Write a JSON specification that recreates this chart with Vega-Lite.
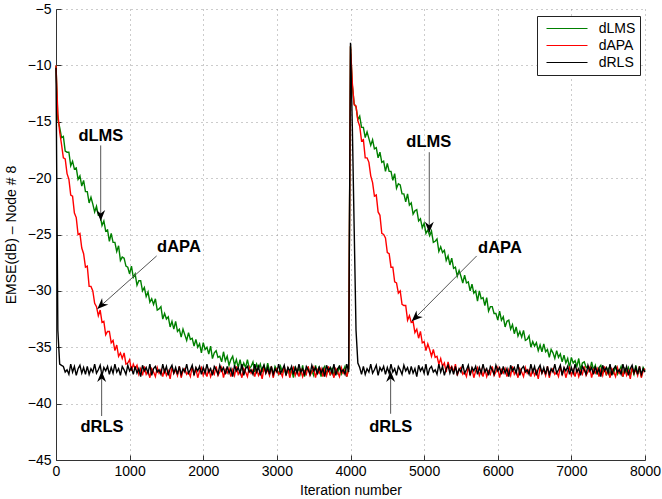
{
"$schema":"https://vega.github.io/schema/vega-lite/v6.json",
"width":589,"height":451,
"autosize":"none",
"padding":{"left":56,"top":9,"right":17,"bottom":39},
"background":"white",
"config":{"font":"Liberation Sans","view":{"stroke":null},
"axis":{"labelFontSize":14,"titleFontSize":14,"titleFontWeight":"normal","labelColor":"#000","titleColor":"#000","domainColor":"#333","tickColor":"#333","tickSize":-5,"gridColor":"#999","gridDash":[1,4],"gridOpacity":1,"labelFlush":false,"labelOverlap":false}},
"datasets":{
"curves":[
{"x":0,"g":-10,"r":-10,"k":-10.2},{"x":25,"g":-14.8,"r":-14.3,"k":-33.5},{"x":50,"g":-15.5,"r":-15.9,"k":-36.5},{"x":75,"g":-16.4,"r":-17.0,"k":-36.6},{"x":100,"g":-16.3,"r":-18.2,"k":-36.7},
{"x":125,"g":-17.6,"r":-18.3,"k":-37.2},{"x":150,"g":-17.7,"r":-19.6,"k":-37.0},{"x":175,"g":-17.7,"r":-20.1,"k":-37.4},{"x":200,"g":-18.9,"r":-21.5,"k":-36.5},{"x":225,"g":-18.5,"r":-21.6,"k":-37.2},
{"x":250,"g":-19.2,"r":-23.1,"k":-36.7},{"x":275,"g":-19.1,"r":-23.5,"k":-37.5},{"x":300,"g":-20.1,"r":-25.0,"k":-36.9},{"x":325,"g":-19.8,"r":-24.9,"k":-36.6},{"x":350,"g":-20.7,"r":-26.2,"k":-37.3},
{"x":375,"g":-20.2,"r":-26.7,"k":-36.8},{"x":400,"g":-21.2,"r":-27.9,"k":-37.4},{"x":425,"g":-21.2,"r":-27.8,"k":-36.7},{"x":450,"g":-22.2,"r":-29.6,"k":-37.4},{"x":475,"g":-21.7,"r":-29.6,"k":-36.9},
{"x":500,"g":-22.3,"r":-30.0,"k":-37.2},{"x":525,"g":-23.0,"r":-31.1,"k":-36.5},{"x":550,"g":-22.5,"r":-31.4,"k":-37.3},{"x":575,"g":-23.3,"r":-32.2,"k":-37.0},{"x":600,"g":-23.3,"r":-31.7,"k":-36.6},
{"x":625,"g":-24.2,"r":-32.8,"k":-37.5},{"x":650,"g":-23.8,"r":-32.7,"k":-36.8},{"x":675,"g":-24.7,"r":-33.9,"k":-37.1},{"x":700,"g":-24.6,"r":-33.6,"k":-36.7},{"x":725,"g":-25.6,"r":-33.6,"k":-37.4},
{"x":750,"g":-24.9,"r":-34.6,"k":-36.8},{"x":775,"g":-25.7,"r":-34.4,"k":-37.3},{"x":800,"g":-25.7,"r":-35.3,"k":-36.5},{"x":825,"g":-26.5,"r":-34.8,"k":-37.2},{"x":850,"g":-26.0,"r":-35.8,"k":-36.9},
{"x":875,"g":-27.3,"r":-35.5,"k":-37.5},{"x":900,"g":-27.0,"r":-36.0,"k":-36.7},{"x":925,"g":-27.1,"r":-35.5,"k":-37.0},{"x":950,"g":-27.8,"r":-36.5,"k":-37.4},{"x":975,"g":-27.9,"r":-36.4,"k":-36.6},
{"x":1000,"g":-28.5,"r":-36.1,"k":-37.1},{"x":1025,"g":-27.8,"r":-37.1,"k":-36.8},{"x":1050,"g":-28.8,"r":-36.5,"k":-37.4},{"x":1075,"g":-28.5,"r":-36.9,"k":-36.7},{"x":1100,"g":-29.5,"r":-36.6,"k":-37.3},
{"x":1125,"g":-29.1,"r":-37.4,"k":-36.9},{"x":1150,"g":-29.1,"r":-36.9,"k":-37.6},{"x":1175,"g":-30.0,"r":-37.5,"k":-36.6},{"x":1200,"g":-29.7,"r":-36.7,"k":-37.1},{"x":1225,"g":-30.5,"r":-37.4,"k":-36.8},
{"x":1250,"g":-30.1,"r":-37.1,"k":-37.3},{"x":1275,"g":-31.0,"r":-37.7,"k":-36.5},{"x":1300,"g":-30.7,"r":-36.9,"k":-37.5},{"x":1325,"g":-31.2,"r":-37.2,"k":-36.9},{"x":1350,"g":-30.7,"r":-37.6,"k":-36.7},
{"x":1375,"g":-31.7,"r":-36.8,"k":-37.2},{"x":1400,"g":-31.6,"r":-37.3,"k":-37.0},{"x":1425,"g":-31.4,"r":-37.0,"k":-37.4},{"x":1450,"g":-32.5,"r":-37.6,"k":-36.5},{"x":1475,"g":-32.0,"r":-36.9,"k":-37.2},
{"x":1500,"g":-32.5,"r":-37.5,"k":-36.7},{"x":1525,"g":-32.3,"r":-37.1,"k":-37.5},{"x":1550,"g":-33.2,"r":-37.8,"k":-36.9},{"x":1575,"g":-32.7,"r":-36.8,"k":-36.6},{"x":1600,"g":-33.4,"r":-37.3,"k":-37.3},
{"x":1625,"g":-32.7,"r":-37.0,"k":-36.8},{"x":1650,"g":-33.6,"r":-37.5,"k":-37.4},{"x":1675,"g":-33.4,"r":-36.7,"k":-36.7},{"x":1700,"g":-34.1,"r":-37.7,"k":-37.4},{"x":1725,"g":-33.4,"r":-37.1,"k":-36.9},
{"x":1750,"g":-33.9,"r":-36.9,"k":-37.2},{"x":1775,"g":-34.4,"r":-37.4,"k":-36.5},{"x":1800,"g":-33.7,"r":-37.2,"k":-37.3},{"x":1825,"g":-34.3,"r":-37.6,"k":-37.0},{"x":1850,"g":-34.2,"r":-36.7,"k":-36.6},
{"x":1875,"g":-34.9,"r":-37.4,"k":-37.5},{"x":1900,"g":-34.3,"r":-36.9,"k":-36.8},{"x":1925,"g":-35.0,"r":-37.7,"k":-37.1},{"x":1950,"g":-34.7,"r":-37.1,"k":-36.7},{"x":1975,"g":-35.5,"r":-36.8,"k":-37.4},
{"x":2000,"g":-34.6,"r":-37.5,"k":-36.8},{"x":2025,"g":-35.2,"r":-37.0,"k":-37.3},{"x":2050,"g":-35.0,"r":-37.6,"k":-36.5},{"x":2075,"g":-35.6,"r":-36.9,"k":-37.2},{"x":2100,"g":-34.9,"r":-37.6,"k":-36.9},
{"x":2125,"g":-36.0,"r":-37.1,"k":-37.5},{"x":2150,"g":-35.5,"r":-37.4,"k":-36.7},{"x":2175,"g":-35.3,"r":-36.7,"k":-37.0},{"x":2200,"g":-35.9,"r":-37.5,"k":-37.4},{"x":2225,"g":-35.8,"r":-37.2,"k":-36.6},
{"x":2250,"g":-36.3,"r":-36.8,"k":-37.1},{"x":2275,"g":-35.4,"r":-37.7,"k":-36.8},{"x":2300,"g":-36.2,"r":-37.0,"k":-37.4},{"x":2325,"g":-35.8,"r":-37.3,"k":-36.7},{"x":2350,"g":-36.6,"r":-36.9,"k":-37.3},
{"x":2375,"g":-36.1,"r":-37.6,"k":-36.9},{"x":2400,"g":-35.8,"r":-37.0,"k":-37.6},{"x":2425,"g":-36.6,"r":-37.5,"k":-36.6},{"x":2450,"g":-36.1,"r":-36.7,"k":-37.1},{"x":2475,"g":-36.8,"r":-37.4,"k":-36.8},
{"x":2500,"g":-36.1,"r":-37.1,"k":-37.3},{"x":2525,"g":-36.9,"r":-37.7,"k":-36.5},{"x":2550,"g":-36.4,"r":-36.9,"k":-37.5},{"x":2575,"g":-36.8,"r":-37.2,"k":-36.9},{"x":2600,"g":-36.1,"r":-37.6,"k":-36.7},
{"x":2625,"g":-36.9,"r":-36.8,"k":-37.2},{"x":2650,"g":-36.7,"r":-37.3,"k":-37.0},{"x":2675,"g":-36.3,"r":-37.0,"k":-37.4},{"x":2700,"g":-37.2,"r":-37.6,"k":-36.5},{"x":2725,"g":-36.5,"r":-36.9,"k":-37.2},
{"x":2750,"g":-36.9,"r":-37.5,"k":-36.7},{"x":2775,"g":-36.5,"r":-37.1,"k":-37.5},{"x":2800,"g":-37.2,"r":-37.8,"k":-36.9},{"x":2825,"g":-36.6,"r":-36.8,"k":-36.6},{"x":2850,"g":-37.2,"r":-37.3,"k":-37.3},
{"x":2875,"g":-36.4,"r":-37.0,"k":-36.8},{"x":2900,"g":-37.1,"r":-37.5,"k":-37.4},{"x":2925,"g":-36.8,"r":-36.7,"k":-36.7},{"x":2950,"g":-37.5,"r":-37.7,"k":-37.4},{"x":2975,"g":-36.7,"r":-37.1,"k":-36.9},
{"x":3000,"g":-37.0,"r":-36.9,"k":-37.2},{"x":3025,"g":-37.4,"r":-37.4,"k":-36.5},{"x":3050,"g":-36.7,"r":-37.2,"k":-37.3},{"x":3075,"g":-37.2,"r":-37.6,"k":-37.0},{"x":3100,"g":-36.9,"r":-36.7,"k":-36.6},
{"x":3125,"g":-37.5,"r":-37.4,"k":-37.5},{"x":3150,"g":-36.8,"r":-36.9,"k":-36.8},{"x":3175,"g":-37.4,"r":-37.7,"k":-37.1},{"x":3200,"g":-37.0,"r":-37.1,"k":-36.7},{"x":3225,"g":-37.7,"r":-36.8,"k":-37.4},
{"x":3250,"g":-36.7,"r":-37.5,"k":-36.8},{"x":3275,"g":-37.2,"r":-37.0,"k":-37.3},{"x":3300,"g":-36.9,"r":-37.6,"k":-36.5},{"x":3325,"g":-37.4,"r":-36.9,"k":-37.2},{"x":3350,"g":-36.6,"r":-37.6,"k":-36.9},
{"x":3375,"g":-37.6,"r":-37.1,"k":-37.5},{"x":3400,"g":-37.0,"r":-37.4,"k":-36.7},{"x":3425,"g":-36.8,"r":-36.7,"k":-37.0},{"x":3450,"g":-37.3,"r":-37.5,"k":-37.4},{"x":3475,"g":-37.1,"r":-37.2,"k":-36.6},
{"x":3500,"g":-37.5,"r":-36.8,"k":-37.1},{"x":3525,"g":-36.6,"r":-37.7,"k":-36.8},{"x":3550,"g":-37.3,"r":-37.0,"k":-37.4},{"x":3575,"g":-36.8,"r":-37.3,"k":-36.7},{"x":3600,"g":-37.6,"r":-36.9,"k":-37.3},
{"x":3625,"g":-37.0,"r":-37.6,"k":-36.9},{"x":3650,"g":-36.7,"r":-37.0,"k":-37.6},{"x":3675,"g":-37.4,"r":-37.5,"k":-36.6},{"x":3700,"g":-36.9,"r":-36.7,"k":-37.1},{"x":3725,"g":-37.5,"r":-37.4,"k":-36.8},
{"x":3750,"g":-36.8,"r":-37.1,"k":-37.3},{"x":3775,"g":-37.5,"r":-37.7,"k":-36.5},{"x":3800,"g":-37.0,"r":-36.9,"k":-37.5},{"x":3825,"g":-37.3,"r":-37.2,"k":-36.9},{"x":3850,"g":-36.6,"r":-37.6,"k":-36.7},
{"x":3875,"g":-37.4,"r":-36.8,"k":-37.2},{"x":3900,"g":-37.1,"r":-37.3,"k":-37.0},{"x":3925,"g":-36.7,"r":-37.0,"k":-37.4},{"x":3950,"g":-37.6,"r":-37.6,"k":-36.5},{"x":3975,"g":-36.9,"r":-36.9,"k":-37.2},
{"x":4000,"g":-8.3,"r":-8.3,"k":-8.0},{"x":4025,"g":-11.8,"r":-11.6,"k":-15.5},{"x":4050,"g":-13.4,"r":-13.5,"k":-24.5},{"x":4075,"g":-13.7,"r":-13.6,"k":-33.5},{"x":4100,"g":-14.8,"r":-14.9,"k":-36.4},
{"x":4125,"g":-14.5,"r":-15.4,"k":-36.8},{"x":4150,"g":-15.5,"r":-16.7,"k":-37.4},{"x":4175,"g":-15.5,"r":-16.6,"k":-36.7},{"x":4200,"g":-16.4,"r":-18.2,"k":-37.4},{"x":4225,"g":-15.9,"r":-18.2,"k":-36.9},
{"x":4250,"g":-16.5,"r":-18.6,"k":-37.2},{"x":4275,"g":-17.1,"r":-19.8,"k":-36.5},{"x":4300,"g":-16.6,"r":-20.4,"k":-37.3},{"x":4325,"g":-17.4,"r":-21.6,"k":-37.0},{"x":4350,"g":-17.3,"r":-21.5,"k":-36.6},
{"x":4375,"g":-18.2,"r":-23.0,"k":-37.5},{"x":4400,"g":-17.7,"r":-23.3,"k":-36.8},{"x":4425,"g":-18.6,"r":-24.9,"k":-37.1},{"x":4450,"g":-18.5,"r":-25.0,"k":-36.7},{"x":4475,"g":-19.4,"r":-25.3,"k":-37.4},
{"x":4500,"g":-18.7,"r":-26.6,"k":-36.8},{"x":4525,"g":-19.4,"r":-26.7,"k":-37.3},{"x":4550,"g":-19.4,"r":-27.9,"k":-36.5},{"x":4575,"g":-20.2,"r":-27.9,"k":-37.2},{"x":4600,"g":-19.6,"r":-29.2,"k":-36.9},
{"x":4625,"g":-20.9,"r":-29.3,"k":-37.5},{"x":4650,"g":-20.5,"r":-30.2,"k":-36.7},{"x":4675,"g":-20.6,"r":-30.0,"k":-37.0},{"x":4700,"g":-21.4,"r":-31.2,"k":-37.4},{"x":4725,"g":-21.4,"r":-31.3,"k":-36.6},
{"x":4750,"g":-22.1,"r":-31.3,"k":-37.1},{"x":4775,"g":-21.4,"r":-32.6,"k":-36.8},{"x":4800,"g":-22.4,"r":-32.2,"k":-37.4},{"x":4825,"g":-22.2,"r":-32.8,"k":-36.7},{"x":4850,"g":-23.2,"r":-32.7,"k":-37.3},
{"x":4875,"g":-22.9,"r":-33.7,"k":-36.9},{"x":4900,"g":-22.8,"r":-33.4,"k":-37.6},{"x":4925,"g":-23.8,"r":-34.2,"k":-36.6},{"x":4950,"g":-23.6,"r":-33.6,"k":-37.1},{"x":4975,"g":-24.4,"r":-34.6,"k":-36.8},
{"x":5000,"g":-24.0,"r":-34.5,"k":-37.3},{"x":5025,"g":-24.9,"r":-35.3,"k":-36.5},{"x":5050,"g":-24.6,"r":-34.7,"k":-37.5},{"x":5075,"g":-25.1,"r":-35.2,"k":-36.9},{"x":5100,"g":-24.7,"r":-35.8,"k":-36.7},
{"x":5125,"g":-25.7,"r":-35.2,"k":-37.2},{"x":5150,"g":-25.6,"r":-35.9,"k":-37.0},{"x":5175,"g":-25.4,"r":-35.8,"k":-37.4},{"x":5200,"g":-26.5,"r":-36.5,"k":-36.5},{"x":5225,"g":-26.1,"r":-36.0,"k":-37.2},
{"x":5250,"g":-26.6,"r":-36.7,"k":-36.7},{"x":5275,"g":-26.4,"r":-36.4,"k":-37.5},{"x":5300,"g":-27.3,"r":-37.2,"k":-36.9},{"x":5325,"g":-26.9,"r":-36.3,"k":-36.6},{"x":5350,"g":-27.7,"r":-36.9,"k":-37.3},
{"x":5375,"g":-27.1,"r":-36.7,"k":-36.8},{"x":5400,"g":-28.0,"r":-37.2,"k":-37.4},{"x":5425,"g":-27.9,"r":-36.5,"k":-36.7},{"x":5450,"g":-28.7,"r":-37.5,"k":-37.4},{"x":5475,"g":-28.2,"r":-37.0,"k":-36.9},
{"x":5500,"g":-28.7,"r":-36.8,"k":-37.2},{"x":5525,"g":-29.3,"r":-37.4,"k":-36.5},{"x":5550,"g":-28.6,"r":-37.2,"k":-37.3},{"x":5575,"g":-29.3,"r":-37.6,"k":-37.0},{"x":5600,"g":-29.2,"r":-36.7,"k":-36.6},
{"x":5625,"g":-30.0,"r":-37.4,"k":-37.5},{"x":5650,"g":-29.4,"r":-36.9,"k":-36.8},{"x":5675,"g":-30.2,"r":-37.7,"k":-37.1},{"x":5700,"g":-30.0,"r":-37.1,"k":-36.7},{"x":5725,"g":-30.9,"r":-36.8,"k":-37.4},
{"x":5750,"g":-30.0,"r":-37.5,"k":-36.8},{"x":5775,"g":-30.7,"r":-37.0,"k":-37.3},{"x":5800,"g":-30.6,"r":-37.6,"k":-36.5},{"x":5825,"g":-31.3,"r":-36.9,"k":-37.2},{"x":5850,"g":-30.6,"r":-37.6,"k":-36.9},
{"x":5875,"g":-31.8,"r":-37.1,"k":-37.5},{"x":5900,"g":-31.4,"r":-37.4,"k":-36.7},{"x":5925,"g":-31.4,"r":-36.7,"k":-37.0},{"x":5950,"g":-32.0,"r":-37.5,"k":-37.4},{"x":5975,"g":-32.0,"r":-37.2,"k":-36.6},
{"x":6000,"g":-32.6,"r":-36.8,"k":-37.1},{"x":6025,"g":-31.8,"r":-37.7,"k":-36.8},{"x":6050,"g":-32.6,"r":-37.0,"k":-37.4},{"x":6075,"g":-32.3,"r":-37.3,"k":-36.7},{"x":6100,"g":-33.2,"r":-36.9,"k":-37.3},
{"x":6125,"g":-32.7,"r":-37.6,"k":-36.9},{"x":6150,"g":-32.6,"r":-37.0,"k":-37.6},{"x":6175,"g":-33.4,"r":-37.5,"k":-36.6},{"x":6200,"g":-33.0,"r":-36.7,"k":-37.1},{"x":6225,"g":-33.8,"r":-37.4,"k":-36.8},
{"x":6250,"g":-33.2,"r":-37.1,"k":-37.3},{"x":6275,"g":-34.0,"r":-37.7,"k":-36.5},{"x":6300,"g":-33.6,"r":-36.9,"k":-37.5},{"x":6325,"g":-34.1,"r":-37.2,"k":-36.9},{"x":6350,"g":-33.5,"r":-37.6,"k":-36.7},
{"x":6375,"g":-34.4,"r":-36.8,"k":-37.2},{"x":6400,"g":-34.3,"r":-37.3,"k":-37.0},{"x":6425,"g":-34.0,"r":-37.0,"k":-37.4},{"x":6450,"g":-35.0,"r":-37.6,"k":-36.5},{"x":6475,"g":-34.5,"r":-36.9,"k":-37.2},
{"x":6500,"g":-34.9,"r":-37.5,"k":-36.7},{"x":6525,"g":-34.6,"r":-37.1,"k":-37.5},{"x":6550,"g":-35.3,"r":-37.8,"k":-36.9},{"x":6575,"g":-34.8,"r":-36.8,"k":-36.6},{"x":6600,"g":-35.4,"r":-37.3,"k":-37.3},
{"x":6625,"g":-34.7,"r":-37.0,"k":-36.8},{"x":6650,"g":-35.4,"r":-37.5,"k":-37.4},{"x":6675,"g":-35.2,"r":-36.7,"k":-36.7},{"x":6700,"g":-35.9,"r":-37.7,"k":-37.4},{"x":6725,"g":-35.2,"r":-37.1,"k":-36.9},
{"x":6750,"g":-35.5,"r":-36.9,"k":-37.2},{"x":6775,"g":-36.0,"r":-37.4,"k":-36.5},{"x":6800,"g":-35.3,"r":-37.2,"k":-37.3},{"x":6825,"g":-35.9,"r":-37.6,"k":-37.0},{"x":6850,"g":-35.6,"r":-36.7,"k":-36.6},
{"x":6875,"g":-36.3,"r":-37.4,"k":-37.5},{"x":6900,"g":-35.7,"r":-36.9,"k":-36.8},{"x":6925,"g":-36.4,"r":-37.7,"k":-37.1},{"x":6950,"g":-36.0,"r":-37.1,"k":-36.7},{"x":6975,"g":-36.8,"r":-36.8,"k":-37.4},
{"x":7000,"g":-35.9,"r":-37.5,"k":-36.8},{"x":7025,"g":-36.4,"r":-37.0,"k":-37.3},{"x":7050,"g":-36.2,"r":-37.6,"k":-36.5},{"x":7075,"g":-36.7,"r":-36.9,"k":-37.2},{"x":7100,"g":-36.0,"r":-37.6,"k":-36.9},
{"x":7125,"g":-37.0,"r":-37.1,"k":-37.5},{"x":7150,"g":-36.4,"r":-37.4,"k":-36.7},{"x":7175,"g":-36.3,"r":-36.7,"k":-37.0},{"x":7200,"g":-36.8,"r":-37.5,"k":-37.4},{"x":7225,"g":-36.7,"r":-37.2,"k":-36.6},
{"x":7250,"g":-37.1,"r":-36.8,"k":-37.1},{"x":7275,"g":-36.3,"r":-37.7,"k":-36.8},{"x":7300,"g":-37.0,"r":-37.0,"k":-37.4},{"x":7325,"g":-36.6,"r":-37.3,"k":-36.7},{"x":7350,"g":-37.4,"r":-36.9,"k":-37.3},
{"x":7375,"g":-36.8,"r":-37.6,"k":-36.9},{"x":7400,"g":-36.6,"r":-37.0,"k":-37.6},{"x":7425,"g":-37.3,"r":-37.5,"k":-36.6},{"x":7450,"g":-36.9,"r":-36.7,"k":-37.1},{"x":7475,"g":-37.5,"r":-37.4,"k":-36.8},
{"x":7500,"g":-36.8,"r":-37.1,"k":-37.3},{"x":7525,"g":-37.5,"r":-37.7,"k":-36.5},{"x":7550,"g":-37.0,"r":-36.9,"k":-37.5},{"x":7575,"g":-37.3,"r":-37.2,"k":-36.9},{"x":7600,"g":-36.6,"r":-37.6,"k":-36.7},
{"x":7625,"g":-37.4,"r":-36.8,"k":-37.2},{"x":7650,"g":-37.1,"r":-37.3,"k":-37.0},{"x":7675,"g":-36.7,"r":-37.0,"k":-37.4},{"x":7700,"g":-37.6,"r":-37.6,"k":-36.5},{"x":7725,"g":-36.9,"r":-36.9,"k":-37.2},
{"x":7750,"g":-37.2,"r":-37.5,"k":-36.7},{"x":7775,"g":-36.8,"r":-37.1,"k":-37.5},{"x":7800,"g":-37.5,"r":-37.8,"k":-36.9},{"x":7825,"g":-36.9,"r":-36.8,"k":-36.6},{"x":7850,"g":-37.4,"r":-37.3,"k":-37.3},
{"x":7875,"g":-36.6,"r":-37.0,"k":-36.8},{"x":7900,"g":-37.3,"r":-37.5,"k":-37.4},{"x":7925,"g":-37.0,"r":-36.7,"k":-36.7},{"x":7950,"g":-37.6,"r":-37.7,"k":-37.4},{"x":7975,"g":-36.8,"r":-37.1,"k":-36.9},
{"x":8000,"g":-37.1,"r":-36.9,"k":-37.2}
],
"notes":[
{"lab":"dLMS","tx":609,"ty":-16.7,"ax":607,"ay":-17.1,"bx":607,"by":-23.8},
{"lab":"dLMS","tx":5063,"ty":-17.25,"ax":5070,"ay":-17.7,"bx":5070,"by":-24.85},
{"lab":"dAPA","tx":1670,"ty":-26.57,"ax":1367,"ay":-26.9,"bx":561,"by":-31.6},
{"lab":"dAPA","tx":6030,"ty":-26.62,"ax":5714,"ay":-26.9,"bx":4831,"by":-32.7},
{"lab":"dRLS","tx":625,"ty":-42.55,"ax":620,"ay":-41.1,"bx":620,"by":-37.1},
{"lab":"dRLS","tx":4547,"ty":-42.55,"ax":4545,"ay":-40.9,"bx":4545,"by":-37.1}
]},
"layer":[
{"data":{"name":"curves"},
 "transform":[{"fold":["g","r","k"],"as":["s","y"]},{"filter":"datum.s=='g'"}],
 "mark":{"type":"line","strokeWidth":1.4},
 "encoding":{
  "x":{"field":"x","type":"quantitative","title":"Iteration number","scale":{"domain":[0,8000],"nice":false},
       "axis":{"values":[0,1000,2000,3000,4000,5000,6000,7000,8000],"format":"d","labelPadding":9,"titlePadding":5,"grid":true}},
  "y":{"field":"y","type":"quantitative","title":"EMSE(dB) – Node # 8","scale":{"domain":[-45,-5],"nice":false,"zero":false},
       "axis":{"values":[-45,-40,-35,-30,-25,-20,-15,-10,-5],"format":"d","labelPadding":10,"titlePadding":9,"grid":true}},
  "color":{"field":"s","type":"nominal","scale":{"domain":["g","r","k"],"range":["#008000","#ff0000","#000000"]},
   "legend":{"orient":"none","legendX":481,"legendY":7,"title":null,"symbolType":"stroke","symbolSize":1681,"symbolStrokeWidth":1,"symbolOpacity":1,"clipHeight":17,"rowPadding":0,"padding":4,"strokeColor":"#222","fillColor":"#fff","labelFontSize":14,"labelColor":"#000","symbolOffset":5,"labelOffset":10.7,
    "labelExpr":"datum.label=='g'?'dLMS':datum.label=='r'?'dAPA':'dRLS'"}}}},
{"data":{"name":"curves"},
 "transform":[{"fold":["g","r","k"],"as":["s","y"]},{"filter":"datum.s=='r'"}],
 "mark":{"type":"line","strokeWidth":1.4},
 "encoding":{
  "x":{"field":"x","type":"quantitative","title":"Iteration number"},
  "y":{"field":"y","type":"quantitative","title":"EMSE(dB) – Node # 8"},
  "color":{"field":"s","type":"nominal"}}},
{"data":{"name":"curves"},
 "transform":[{"fold":["g","r","k"],"as":["s","y"]},{"filter":"datum.s=='k'"}],
 "mark":{"type":"line","strokeWidth":1.4},
 "encoding":{
  "x":{"field":"x","type":"quantitative","title":"Iteration number"},
  "y":{"field":"y","type":"quantitative","title":"EMSE(dB) – Node # 8"},
  "color":{"field":"s","type":"nominal"}}},
{"data":{"name":"notes"},
 "mark":{"type":"rule","color":"#555","strokeWidth":1},
 "encoding":{
  "x":{"field":"ax","type":"quantitative","title":"Iteration number"},
  "y":{"field":"ay","type":"quantitative","title":"EMSE(dB) – Node # 8"},
  "x2":{"field":"bx"},"y2":{"field":"by"}}},
{"data":{"name":"notes"},
 "transform":[{"filter":"datum.lab=='dLMS'"}],
 "mark":{"type":"point","shape":"M0,0 L0.45,1.1 L0,0.75 L-0.45,1.1 Z","size":400,"filled":true,"color":"#000","opacity":1,"strokeWidth":0,"angle":180},
 "encoding":{
  "x":{"field":"bx","type":"quantitative","title":"Iteration number"},
  "y":{"field":"by","type":"quantitative","title":"EMSE(dB) – Node # 8"}}},
{"data":{"name":"notes"},
 "transform":[{"filter":"datum.lab=='dAPA'"}],
 "mark":{"type":"point","shape":"M0,0 L0.45,1.1 L0,0.75 L-0.45,1.1 Z","size":400,"filled":true,"color":"#000","opacity":1,"strokeWidth":0,"angle":226},
 "encoding":{
  "x":{"field":"bx","type":"quantitative","title":"Iteration number"},
  "y":{"field":"by","type":"quantitative","title":"EMSE(dB) – Node # 8"}}},
{"data":{"name":"notes"},
 "transform":[{"filter":"datum.lab=='dRLS'"}],
 "mark":{"type":"point","shape":"M0,0 L0.45,1.1 L0,0.75 L-0.45,1.1 Z","size":400,"filled":true,"color":"#000","opacity":1,"strokeWidth":0,"angle":0},
 "encoding":{
  "x":{"field":"bx","type":"quantitative","title":"Iteration number"},
  "y":{"field":"by","type":"quantitative","title":"EMSE(dB) – Node # 8"}}},
{"data":{"name":"notes"},
 "mark":{"type":"text","fontSize":16.5,"fontWeight":"bold","baseline":"alphabetic","align":"center","color":"#000"},
 "encoding":{
  "x":{"field":"tx","type":"quantitative","title":"Iteration number"},
  "y":{"field":"ty","type":"quantitative","title":"EMSE(dB) – Node # 8"},
  "text":{"field":"lab"}}}
]
}
